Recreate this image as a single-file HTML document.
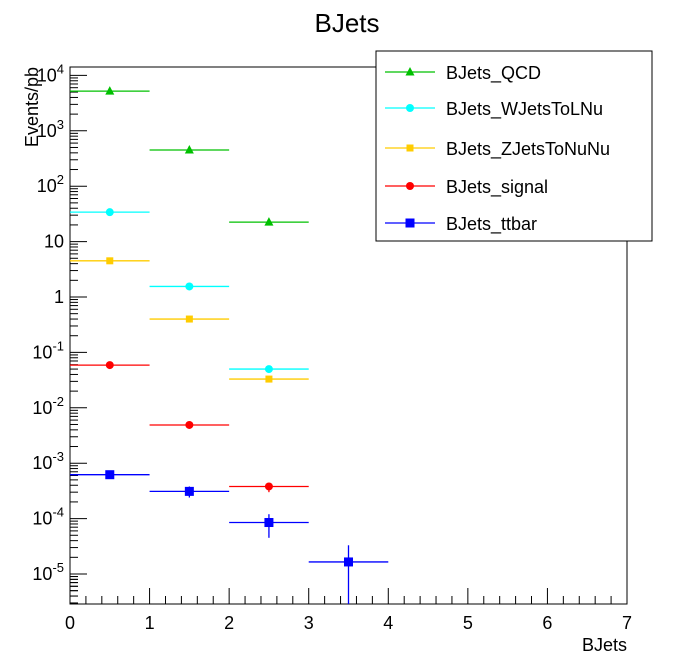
<!DOCTYPE html>
<html><head><meta charset="utf-8"><style>body{margin:0;background:#fff}svg{display:block;font-family:"Liberation Sans",sans-serif}</style></head>
<body>
<svg id="c" width="696" height="672">
<text x="347" y="32" font-size="26" text-anchor="middle">BJets</text>
<rect x="70" y="67" width="557" height="537" fill="none" stroke="#000"/>
<text transform="translate(38,67) rotate(-90)" font-size="18" text-anchor="end">Events/pb</text>
<text x="627" y="651" font-size="18" text-anchor="end">BJets</text>
<g id="axes"></g><g id="marks"></g>
<g>
<rect x="376" y="51" width="276" height="190" fill="#fff" stroke="#000"/>
<g id="leg"></g></g>
</svg>
<script>
const categories=[0.5,1.5,2.5,3.5];
const seriesNames=["BJets_QCD","BJets_WJetsToLNu","BJets_ZJetsToNuNu","BJets_signal","BJets_ttbar"];
const colors=["#00c000","#00ffff","#ffcc00","#ff0000","#0000ff"];
const qcd=[5200,450,22.5];
const wjets=[34,1.55,0.05];
const zjets=[4.5,0.4,0.033];
const signal=[0.059,0.0049,0.00038];
const ttbar=[0.00062,0.00031,0.000085,0.0000165];
const signalErrLo=[0,0,0.00030];
const signalErrHi=[0,0,0.00044];
const ttbarErrLo=[0.00054,0.00024,0.000045,0.0000001];
const ttbarErrHi=[0.00067,0.00038,0.00012,0.000033];
const xTicks=[0,1,2,3,4,5,6,7];
const yTickExp=[4,3,2,1,0,-1,-2,-3,-4,-5];
const yTickLabels=["10^4","10^3","10^2","10","1","10^-1","10^-2","10^-3","10^-4","10^-5"];
const X0=70,X1=627,Y0=604,Y1=67;
const xs=v=>X0+(v-0)*(X1-X0)/7;
const ys=v=>Math.min(Y0,297-55.4*Math.log10(v));
const NS="http://www.w3.org/2000/svg";
function mk(p,t,a){const e=document.createElementNS(NS,t);for(const k in a)e.setAttribute(k,a[k]);p.appendChild(e);return e;}
const ax=document.getElementById('axes'),mg=document.getElementById('marks');
xTicks.forEach((t,i)=>{
 const l=mk(ax,'line',{x1:xs(t),x2:xs(t),y1:Y0,y2:Y0-16,stroke:'#000'});
 
 const tx=mk(ax,'text',{x:xs(t),y:Y0+25,'font-size':18,'text-anchor':'middle'});tx.textContent=t;
 
 if(i<xTicks.length-1)for(let k=1;k<5;k++){const m=mk(ax,'line',{x1:xs(t+k*0.2),x2:xs(t+k*0.2),y1:Y0,y2:Y0-8,stroke:'#000'});}
});
yTickExp.forEach((e,i)=>{
 const y=ys(Math.pow(10,e));
 const l=mk(ax,'line',{x1:X0,x2:X0+17,y1:y,y2:y,stroke:'#000'});
 
 const lab=yTickLabels[i];const tx=mk(ax,'text',{x:X0-6,y:y+6,'font-size':18,'text-anchor':'end'});
 
 if(lab.includes('^')){const [b,p]=lab.split('^');const t1=mk(tx,'tspan',{});t1.textContent=b;const t2=mk(tx,'tspan',{dy:-8,'font-size':13});t2.textContent=p;tx.setAttribute('x',X0-6);}
 else tx.textContent=lab;
 for(let k=2;k<10;k++){const yy=297-55.4*(e-1+Math.log10(k));if(yy>Y0||yy<Y1)continue;const m=mk(ax,'line',{x1:X0,x2:X0+8,y1:yy,y2:yy,stroke:'#000'});}
});
for(let k=2;k<10;k++){const yy=297-55.4*(4+Math.log10(k));if(yy<Y1)break;const m=mk(ax,'line',{x1:X0,x2:X0+8,y1:yy,y2:yy,stroke:'#000'});}
for(let k=3;k<10;k++){const yy=297-55.4*(-6+Math.log10(k));if(yy>Y0)continue;const m=mk(ax,'line',{x1:X0,x2:X0+8,y1:yy,y2:yy,stroke:'#000'});}
function marker(p,shape,cx,cy,c){
 if(shape==='tri')return mk(p,'polygon',{points:`${cx},${cy-5} ${cx-4.5},${cy+3.5} ${cx+4.5},${cy+3.5}`,fill:c});
 if(shape==='sq')return mk(p,'rect',{x:cx-4.5,y:cy-4.5,width:9,height:9,fill:c});
 if(shape==='sqs')return mk(p,'rect',{x:cx-3.5,y:cy-3.5,width:7,height:7,fill:c});
 return mk(p,'circle',{cx:cx,cy:cy,r:4,fill:c});
}
const data=[qcd,wjets,zjets,signal,ttbar],shapes=['tri','circ','sqs','circ','sq'];
const errLo=[null,null,null,signalErrLo,ttbarErrLo],errHi=[null,null,null,signalErrHi,ttbarErrHi];
data.forEach((vals,s)=>{
 const g=mk(mg,'g',{});
 vals.forEach((v,i)=>{
  const x=categories[i],y=ys(v);
  const h=mk(g,'line',{x1:xs(x-0.5),x2:xs(x+0.5),y1:y,y2:y,stroke:colors[s],'stroke-width':1.3});
  
  if(errLo[s]&&errHi[s][i]){const e=mk(g,'line',{x1:xs(x),x2:xs(x),y1:ys(errLo[s][i]),y2:ys(errHi[s][i]),stroke:colors[s],'stroke-width':1.3});}
  const m=marker(g,shapes[s],xs(x),y,colors[s]);
  
 });
});
const lg=document.getElementById('leg');const legY=[72,108,148,186,223];
seriesNames.forEach((n,s)=>{
 const g=mk(lg,'g',{});
 mk(g,'line',{x1:385,x2:435,y1:legY[s],y2:legY[s],stroke:colors[s],'stroke-width':1.3});
 marker(g,shapes[s],410,legY[s],colors[s]);
 const t=mk(g,'text',{x:446,y:legY[s]+7,'font-size':18});t.textContent=n;
});
</script>
</body></html>
